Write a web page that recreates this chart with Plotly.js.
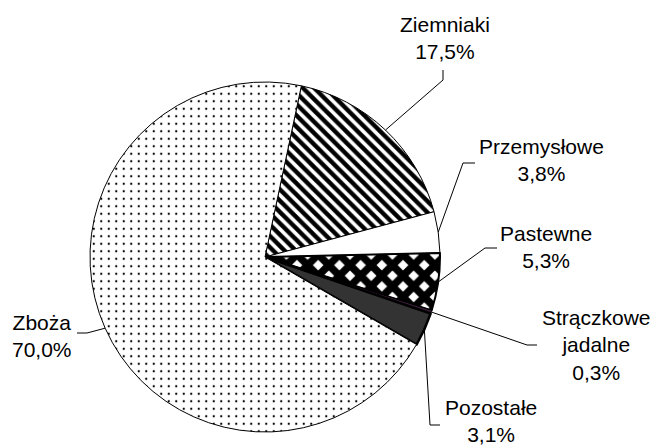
<!DOCTYPE html>
<html>
<head>
<meta charset="utf-8">
<script src="https://cdn.plot.ly/plotly-3.0.1.min.js"></script>
<style>html,body{margin:0;padding:0;background:#fff}</style>
</head>
<body>
<div id="plot" style="width:653px;height:448px"></div>
<script>
// Struktura zasiewów (%)
let categories = ["Ziemniaki", "Przemysłowe", "Pastewne", "Strączkowe<br>jadalne", "Pozostałe", "Zboża"];
let shares = [17.5, 3.8, 5.3, 0.3, 3.1, 70.0];

// slice look
let fills = ["#ffffff", "#ffffff", "#ffffff", "#3b1f3b", "#333333", "#ffffff"];
let shapes = ["\\", "", "x", "", "", "."];
let patSize = [8, 8, 15, 8, 8, 7.5];
let patSolid = [0.55, 0.3, 0.75, 0.3, 0.3, 0.07];
let edgeWidth = [1, 1, 2, 1, 2.5, 1];

// pie placement in pixels
let W = 653, H = 448;
let cx = 265, cy = 257, R = 175;
let startAngle = 12;

// label centres and leader knee / end points (pixels)
let labelPos = [[445, 38], [541, 160], [546, 247], [596, 345], [491, 421], [42, 336]];
let knees = [[443, 80, 443, 70], [463, 163, 475, 163], [485, 248, 497, 248],
             [527, 345, 537, 345], [430, 425, 440, 425], [87, 333, 77, 333]];

function px(x) { return x / W; }
function py(y) { return 1 - y / H; }

let trace = {
    type: "pie",
    labels: categories,
    values: shares,
    sort: false,
    direction: "clockwise",
    rotation: startAngle,
    textinfo: "none",
    hoverinfo: "skip",
    domain: {x: [px(cx - R), px(cx + R)], y: [py(cy + R), py(cy - R)]},
    marker: {
        colors: fills,
        line: {color: "#000000", width: edgeWidth},
        pattern: {shape: shapes, fgcolor: "#000000", size: patSize, solidity: patSolid}
    }
};

// labels and leader lines from the slice mid angles
let total = shares.reduce((a, b) => a + b, 0);
let annotations = [];
let lines = [];
let cum = 0;
for (let i = 0; i < shares.length; i++) {
    let mid = (startAngle + (cum + shares[i] / 2) / total * 360) * Math.PI / 180;
    cum += shares[i];
    let ex = cx + R * Math.sin(mid);
    let ey = cy - R * Math.cos(mid);
    let k = knees[i];
    lines.push({
        type: "path", xref: "paper", yref: "paper",
        path: "M " + px(ex) + "," + py(ey) + " L " + px(k[0]) + "," + py(k[1]) + " L " + px(k[2]) + "," + py(k[3]),
        line: {color: "#000000", width: 1}
    });
    annotations.push({
        xref: "paper", yref: "paper",
        x: px(labelPos[i][0]), y: py(labelPos[i][1]),
        xanchor: "center", yanchor: "middle",
        text: categories[i] + "<br>" + shares[i].toFixed(1).replace(".", ",") + "%",
        showarrow: false,
        font: {family: "Liberation Sans, Arial, sans-serif", size: 21, color: "#000000"}
    });
}

let layout = {
    width: W, height: H,
    margin: {l: 0, r: 0, t: 0, b: 0},
    showlegend: false,
    paper_bgcolor: "#ffffff",
    annotations: annotations,
    shapes: lines
};

Plotly.newPlot("plot", [trace], layout, {staticPlot: true});
</script>
</body>
</html>
